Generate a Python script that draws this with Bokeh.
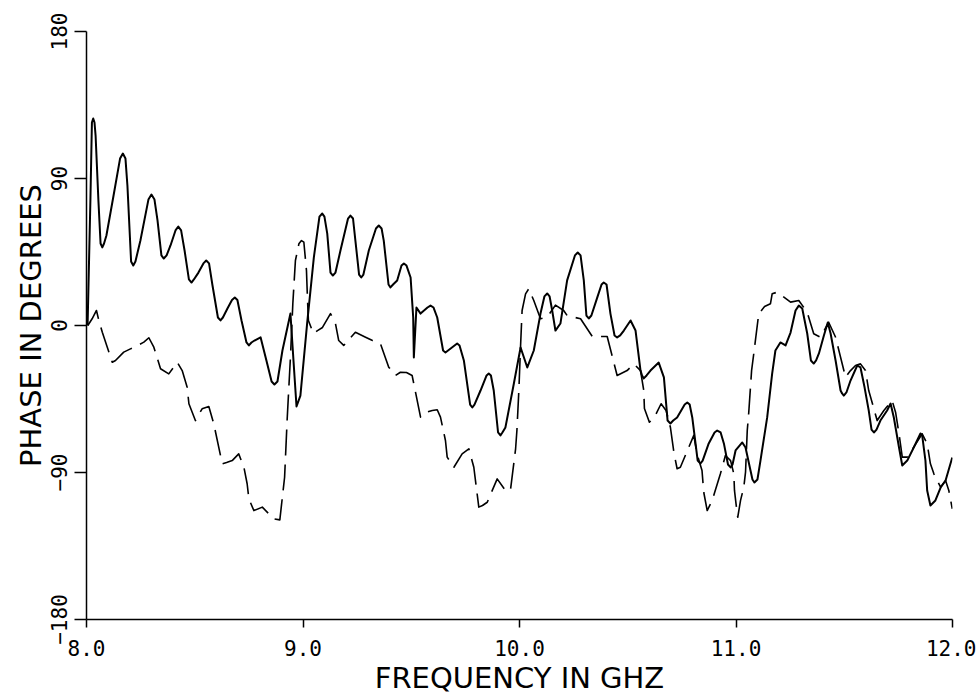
from bokeh.plotting import figure
from bokeh.models import Range1d, FixedTicker, PrintfTickFormatter
from bokeh.embed import file_html
from bokeh.resources import INLINE

# ---- data (frequency in GHz, phase in degrees) ----
solid_freq = [8.005, 8.018, 8.031, 8.042, 8.055, 8.073, 8.092, 8.125, 8.168, 8.189,
              8.216, 8.249, 8.300, 8.328, 8.357, 8.388, 8.424, 8.453, 8.485, 8.517,
              8.553, 8.582, 8.619, 8.651, 8.685, 8.716, 8.750, 8.776, 8.804, 8.831,
              8.868, 8.905, 8.942, 8.956, 8.970, 8.988, 9.019, 9.050, 9.089, 9.112,
              9.138, 9.173, 9.219, 9.242, 9.269, 9.304, 9.350, 9.373, 9.404, 9.435,
              9.466, 9.497, 9.509, 9.512, 9.524, 9.543, 9.589, 9.620, 9.658, 9.712,
              9.743, 9.782, 9.820, 9.858, 9.881, 9.912, 9.935, 9.974, 10.005, 10.036,
              10.066, 10.097, 10.128, 10.151, 10.166, 10.189, 10.220, 10.269, 10.297, 10.320,
              10.359, 10.389, 10.420, 10.451, 10.482, 10.513, 10.536, 10.559, 10.574, 10.605,
              10.643, 10.667, 10.697, 10.728, 10.775, 10.798, 10.836, 10.874, 10.913, 10.944,
              10.975, 10.998, 11.029, 11.044, 11.067, 11.085, 11.113, 11.144, 11.167, 11.182,
              11.205, 11.229, 11.252, 11.275, 11.290, 11.306, 11.329, 11.359, 11.383, 11.406,
              11.424, 11.437, 11.460, 11.483, 11.498, 11.529, 11.560, 11.575, 11.594, 11.613,
              11.637, 11.667, 11.698, 11.714, 11.729, 11.753, 11.768, 11.791, 11.821, 11.852,
              11.860, 11.875, 11.883, 11.898, 11.921, 11.945, 11.968, 11.999]
solid_phase = [0, 76.5, 126.7, 116.3, 76.5, 47.8, 55.1, 79.6, 105.3, 85.7,
               36.7, 52, 80.2, 64.3, 41, 49, 60.6, 45.9, 26.3, 32.4,
               39.8, 24.5, 3.1, 10.4, 17.1, 3.1, -12.2, -9.2, -7.2, -21.4,
               -36.1, -15.3, 7.3, -21.4, -49.6, -42.9, 1.2, 41.6, 68.6, 56.3,
               30.6, 45.9, 67.3, 52, 29.4, 45.9, 61.2, 52, 23.3, 27.6,
               38, 29.4, 4.9, -19.6, 11, 7.3, 12.2, 4.9, -16.5, -11,
               -21.4, -50.2, -39.8, -29.4, -39.8, -67.3, -62.4, -35.5, -13.5, -25.7,
               -15.3, 7.3, 19.6, 9.2, -3.1, 1.2, 27.6, 44.7, 27.6, 4.3,
               17.1, 26.3, 7.3, -7.3, -3.1, 3.1, -3.1, -27.6, -32.4, -27.6,
               -22.7, -31.8, -60, -56.3, -47.1, -56.3, -84.5, -72.2, -64.3, -72.2,
               -86.9, -76.5, -71.6, -74.7, -88.8, -96.1, -82.7, -56.3, -29.4, -15.3,
               -10.4, -12.2, -4.3, 9.2, 12.2, 10.4, -4.9, -23.3, -17.1, -6.1,
               1.8, -4.9, -21.4, -39.8, -42.9, -33.7, -24.5, -25.7, -38, -52,
               -65.5, -58.2, -52, -47.8, -56.3, -74.7, -85.7, -82.7, -74.7, -66.1,
               -67.3, -82.7, -101, -110.2, -107.1, -99.2, -94.9, -80.8]

# extra readings on the rounded shoulders of the solid curve's crests and dips
solid_freq_extra = [8.025, 8.037, 8.065, 8.081, 8.155, 8.180, 8.206, 8.226, 8.286, 8.314,
                    8.346, 8.370, 8.411, 8.437, 8.473, 8.496, 8.540, 8.566, 8.607, 8.630,
                    8.672, 8.697, 8.739, 8.762, 8.855, 8.882, 9.076, 9.099, 9.127, 9.150,
                    9.208, 9.231, 9.259, 9.279, 9.337, 9.363, 9.395, 9.416, 9.455, 9.478,
                    9.575, 9.603, 9.647, 9.670, 9.700, 9.723, 9.772, 9.792, 9.848, 9.868,
                    9.901, 9.921, 10.115, 10.139, 10.256, 10.282, 10.309, 10.332, 10.379, 10.402,
                    10.439, 10.465, 10.566, 10.587, 10.684, 10.710, 10.763, 10.786, 10.823, 10.846,
                    10.901, 10.929, 10.963, 10.984, 11.076, 11.099, 11.346, 11.370, 11.490, 11.510,
                    11.626, 11.649]
solid_phase_extra = [124.3, 124.3, 50.2, 50.2, 102.2, 102.2, 39.2, 39.2, 77.1, 77.1,
                     42.9, 42.9, 58.2, 58.2, 28.2, 28.2, 38, 38, 4.9, 4.9,
                     15.6, 15.6, -10.4, -10.4, -34.3, -34.3, 66.7, 66.7, 32.4, 32.4,
                     65.5, 65.5, 31.2, 31.2, 59.4, 59.4, 25.1, 25.1, 36.7, 36.7,
                     11, 11, -15.3, -15.3, -12.2, -12.2, -48.4, -48.4, -30.6, -30.6,
                     -65.5, -65.5, 17.8, 17.8, 42.9, 42.9, 6.1, 6.1, 25.1, 25.1,
                     -6.1, -6.1, -30.6, -30.6, -58.2, -58.2, -48.4, -48.4, -82.7, -82.7,
                     -65.5, -65.5, -85.1, -85.1, -94.3, -94.3, -21.4, -21.4, -41.6, -41,
                     -63.7, -63.7]

dashed_freq = [8.006, 8.026, 8.046, 8.057, 8.073, 8.096, 8.119, 8.134, 8.172, 8.203,
               8.236, 8.265, 8.288, 8.311, 8.342, 8.380, 8.419, 8.442, 8.465, 8.473,
               8.503, 8.534, 8.565, 8.588, 8.627, 8.647, 8.673, 8.703, 8.727, 8.742,
               8.750, 8.773, 8.812, 8.842, 8.862, 8.893, 8.915, 8.927, 8.942, 8.953,
               8.965, 8.981, 8.993, 9.004, 9.016, 9.021, 9.025, 9.048, 9.067, 9.090,
               9.127, 9.150, 9.165, 9.188, 9.242, 9.289, 9.321, 9.358, 9.396, 9.427,
               9.450, 9.478, 9.504, 9.543, 9.566, 9.597, 9.620, 9.635, 9.658, 9.666,
               9.697, 9.735, 9.766, 9.789, 9.812, 9.829, 9.851, 9.897, 9.935, 9.958,
               9.982, 9.988, 9.997, 10.005, 10.012, 10.028, 10.043, 10.066, 10.097, 10.130,
               10.166, 10.204, 10.220, 10.282, 10.336, 10.374, 10.405, 10.451, 10.497, 10.528,
               10.559, 10.574, 10.577, 10.600, 10.623, 10.654, 10.677, 10.697, 10.713, 10.728,
               10.743, 10.782, 10.805, 10.820, 10.843, 10.851, 10.867, 10.890, 10.928, 10.951,
               10.975, 10.990, 10.993, 11.000, 11.008, 11.021, 11.036, 11.044, 11.052, 11.059,
               11.072, 11.082, 11.105, 11.132, 11.159, 11.167, 11.190, 11.252, 11.290, 11.329,
               11.359, 11.390, 11.428, 11.460, 11.483, 11.506, 11.529, 11.552, 11.575, 11.598,
               11.613, 11.637, 11.652, 11.683, 11.721, 11.737, 11.753, 11.768, 11.791, 11.821,
               11.860, 11.883, 11.898, 11.914, 11.945, 11.968, 11.983, 11.999]
dashed_phase = [0, 4.1, 9.2, 3.1, -4.1, -13.3, -22.5, -21.4, -16.3, -14.3,
                -12.2, -10.2, -7.5, -13.3, -26.5, -29.6, -22.5, -27.6, -37.8, -47.9,
                -58.2, -51, -49.6, -60.2, -84.7, -83.9, -82.7, -78.6, -86.8, -96.9,
                -106.1, -113.3, -111.2, -115.3, -118.3, -119, -92.9, -57.1, -19.4, 13.3,
                39.8, 50, 52, 51, 33.7, 15.3, 3.1, -4.9, -3.1, -1.2,
                7.3, 1.2, -9.2, -12.2, -4.1, -7.2, -9.2, -11.2, -25.5, -30.6,
                -28.6, -28.8, -30.6, -56.1, -53.3, -52, -51.6, -56.1, -70.4, -80.6,
                -86.8, -78.6, -75.5, -86.8, -111.2, -110.2, -108.2, -93.9, -101, -101,
                -75.5, -64.3, -39.8, -12.2, 9.2, 19.4, 22.5, 15.3, 4.1, 5.5,
                12.5, 9.2, 6.1, 4.1, -6.7, -6.7, -6.7, -30.6, -27.6, -23.5,
                -27.6, -39.8, -50.8, -59.2, -56.3, -47.9, -52, -62.3, -77.6, -87.7,
                -86.8, -74.5, -67.3, -78.6, -88.8, -102.1, -113.3, -107.1, -90.8, -79.6,
                -82.7, -90.8, -101, -109, -117.4, -107.1, -99, -89.8, -64.3, -53.1,
                -27.6, -17.3, 7.2, 11.6, 13.3, 19.4, 20.4, 14.3, 15.3, 8.1,
                -5.1, -7.2, 2, -7.2, -19.4, -31.7, -27.6, -24.5, -23.5, -27.6,
                -39.8, -51, -58.2, -52, -45.9, -53.1, -66.3, -80.6, -80.6, -74.5,
                -66.3, -72.4, -84.7, -90.8, -99, -94.9, -101, -112.2]

x_ticks = [8, 9, 10, 11, 12]
y_ticks = [-180, -90, 0, 90, 180]
x_title = "FREQUENCY IN GHZ"
y_title = "PHASE IN DEGREES"

# merge the readings of the solid curve in frequency order
solid_pts = sorted(zip(solid_freq + solid_freq_extra, solid_phase + solid_phase_extra))
s_x = [f for f, _ in solid_pts]
s_y = [v for _, v in solid_pts]

TICK_FONT = "DejaVu Sans Mono"
TITLE_FONT = "DejaVu Sans"

p = figure(width=976, height=698, output_backend="svg", toolbar_location=None,
           x_range=Range1d(8, 12), y_range=Range1d(-180, 180),
           min_border_left=86, min_border_top=31, min_border_right=24, min_border_bottom=79)
p.outline_line_color = None
p.xgrid.visible = False
p.ygrid.visible = False

p.line(s_x, s_y, line_color="black", line_width=2.0, line_join="round")
p.line(dashed_freq, dashed_phase, line_color="black", line_width=1.6,
       line_dash="26 9", line_join="round")

xa = p.xaxis[0]
xa.ticker = FixedTicker(ticks=x_ticks)
xa.formatter = PrintfTickFormatter(format="%.1f")
xa.axis_label = x_title
xa.major_tick_in = 0
xa.major_tick_out = 8
xa.minor_tick_out = 0
xa.minor_tick_in = 0
xa.major_label_standoff = 12
xa.axis_label_standoff = 2

ya = p.yaxis[0]
ya.ticker = FixedTicker(ticks=y_ticks)
ya.axis_label = y_title
ya.major_label_orientation = "vertical"
ya.major_tick_in = 0
ya.major_tick_out = 12
ya.minor_tick_out = 0
ya.minor_tick_in = 0
ya.major_label_standoff = 8
ya.axis_label_standoff = 0

for ax in (xa, ya):
    ax.axis_line_color = "black"
    ax.axis_line_width = 1.5
    ax.major_tick_line_color = "black"
    ax.major_tick_line_width = 1.5
    ax.major_label_text_font = TICK_FONT
    ax.major_label_text_font_size = "21px"
    ax.major_label_text_color = "black"
    ax.axis_label_text_font = TITLE_FONT
    ax.axis_label_text_font_size = "29px"
    ax.axis_label_text_font_style = "normal"
    ax.axis_label_text_color = "black"

open("out.html", "w").write(file_html(p, INLINE))
